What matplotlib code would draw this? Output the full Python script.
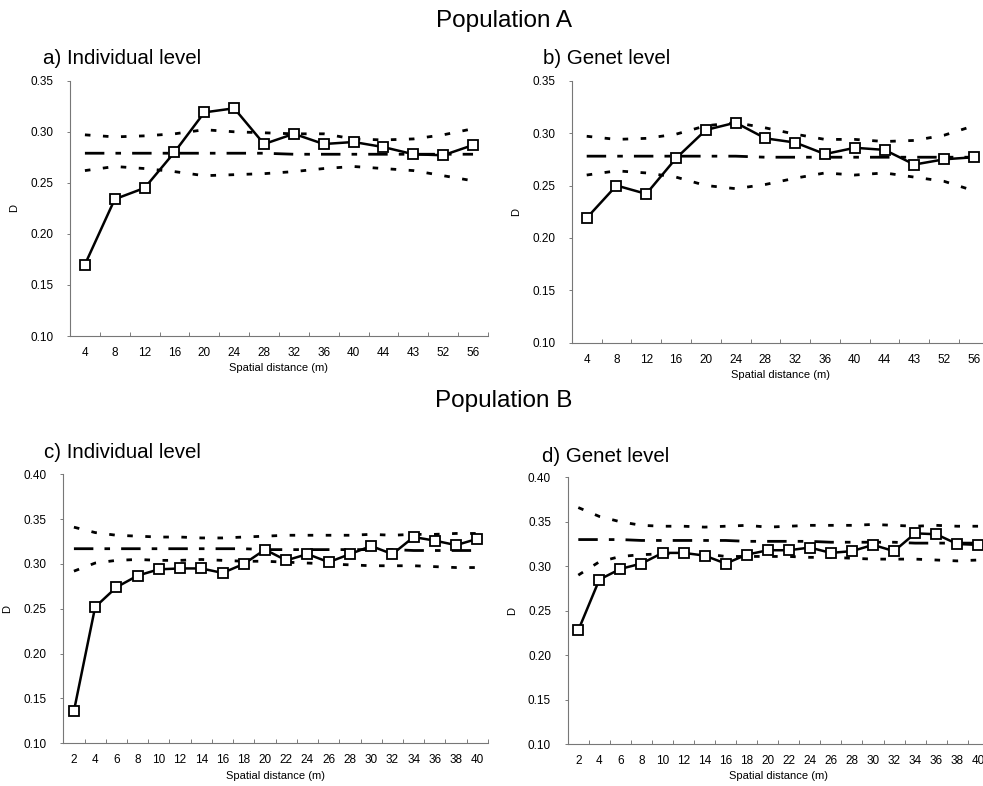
import matplotlib
matplotlib.use("Agg")
import matplotlib.pyplot as plt
from matplotlib.ticker import FixedLocator, FormatStrFormatter

# ---------------- data ----------------
dist_A = [4, 8, 12, 16, 20, 24, 28, 32, 36, 40, 44, 48, 52, 56]
tick_A = ["4", "8", "12", "16", "20", "24", "28", "32", "36", "40", "44", "43", "52", "56"]
a_obs = [0.170, 0.234, 0.245, 0.280, 0.319, 0.323, 0.288, 0.298, 0.288, 0.290, 0.285, 0.278, 0.277, 0.287]
a_mean = [0.279, 0.279, 0.279, 0.279, 0.279, 0.279, 0.279, 0.278, 0.278, 0.278, 0.278, 0.278, 0.278, 0.278]
a_up = [0.297, 0.295, 0.296, 0.298, 0.302, 0.300, 0.299, 0.298, 0.298, 0.293, 0.292, 0.293, 0.297, 0.303]
a_lo = [0.262, 0.266, 0.264, 0.261, 0.257, 0.258, 0.259, 0.261, 0.264, 0.266, 0.264, 0.262, 0.257, 0.252]

b_obs = [0.219, 0.250, 0.242, 0.276, 0.303, 0.310, 0.295, 0.291, 0.280, 0.286, 0.284, 0.270, 0.275, 0.277]
b_mean = [0.278, 0.278, 0.278, 0.278, 0.278, 0.278, 0.277, 0.277, 0.277, 0.277, 0.277, 0.277, 0.277, 0.277]
b_up = [0.297, 0.294, 0.295, 0.299, 0.307, 0.310, 0.305, 0.299, 0.294, 0.294, 0.292, 0.293, 0.298, 0.307]
b_lo = [0.260, 0.264, 0.262, 0.258, 0.250, 0.247, 0.251, 0.257, 0.262, 0.260, 0.262, 0.258, 0.254, 0.245]

dist_B = [2, 4, 6, 8, 10, 12, 14, 16, 18, 20, 22, 24, 26, 28, 30, 32, 34, 36, 38, 40]
tick_B = [str(v) for v in dist_B]
c_obs = [0.136, 0.252, 0.274, 0.287, 0.294, 0.295, 0.295, 0.290, 0.300, 0.316,
         0.304, 0.311, 0.302, 0.311, 0.320, 0.311, 0.330, 0.326, 0.321, 0.328]
c_mean = [0.317, 0.317, 0.317, 0.317, 0.317, 0.317, 0.317, 0.317, 0.317, 0.316,
          0.316, 0.316, 0.316, 0.316, 0.316, 0.316, 0.315, 0.315, 0.315, 0.315]
c_up = [0.341, 0.335, 0.332, 0.331, 0.330, 0.330, 0.329, 0.329, 0.330, 0.331,
        0.332, 0.332, 0.332, 0.332, 0.333, 0.332, 0.333, 0.333, 0.334, 0.334]
c_lo = [0.292, 0.301, 0.304, 0.305, 0.304, 0.304, 0.305, 0.304, 0.303, 0.303,
        0.302, 0.301, 0.300, 0.299, 0.298, 0.298, 0.298, 0.297, 0.296, 0.296]

d_obs = [0.228, 0.285, 0.297, 0.303, 0.315, 0.315, 0.312, 0.303, 0.313, 0.318,
         0.318, 0.321, 0.315, 0.317, 0.324, 0.317, 0.337, 0.336, 0.325, 0.324]
d_mean = [0.330, 0.330, 0.330, 0.329, 0.329, 0.329, 0.329, 0.329, 0.328, 0.328,
          0.328, 0.328, 0.327, 0.327, 0.327, 0.327, 0.326, 0.326, 0.326, 0.326]
d_up = [0.366, 0.356, 0.350, 0.346, 0.345, 0.345, 0.344, 0.345, 0.346, 0.344,
        0.345, 0.346, 0.346, 0.346, 0.347, 0.346, 0.345, 0.346, 0.345, 0.345]
d_lo = [0.290, 0.305, 0.311, 0.313, 0.314, 0.314, 0.314, 0.311, 0.311, 0.311,
        0.311, 0.310, 0.310, 0.309, 0.308, 0.308, 0.308, 0.307, 0.306, 0.307]

plt.rcParams['font.family'] = ['Liberation Sans', 'DejaVu Sans']

W, H = 983, 786
fig = plt.figure(figsize=(W / 100, H / 100), dpi=100)

def px(x, y):
    return x / W, 1 - y / H

panels = [
    ([0.0712, 0.5725, 0.4252, 0.3248], tick_A, a_obs, a_mean, a_up, a_lo, (0.10, 0.35), "a) Individual level", (43, 58)),
    ([0.5817, 0.5640, 0.4242, 0.3333], tick_A, b_obs, b_mean, b_up, b_lo, (0.10, 0.35), "b) Genet level", (543, 58)),
    ([0.0644, 0.0543, 0.4320, 0.3423], tick_B, c_obs, c_mean, c_up, c_lo, (0.10, 0.40), "c) Individual level", (44, 453)),
    ([0.5776, 0.0534, 0.4283, 0.3393], tick_B, d_obs, d_mean, d_up, d_lo, (0.10, 0.40), "d) Genet level", (542, 457)),
]

for rect, ticks, obs, mean, up, lo, ylim, title, tpos in panels:
    ax = fig.add_axes(rect)
    x = list(range(len(ticks)))
    ax.plot(x, up, color='black', lw=2.0, linestyle=(0, (2.0, 4.5)))
    ax.plot(x, lo, color='black', lw=2.0, linestyle=(0, (2.0, 4.5)))
    ax.plot(x, mean, color='black', lw=2.0, linestyle=(0, (7, 4, 2, 4)))
    ax.plot(x, obs, color='black', lw=1.8, marker='s', markersize=7,
            markerfacecolor='white', markeredgecolor='black', markeredgewidth=1.3, zorder=5)
    ax.set_xlim(-0.5, len(ticks) - 0.5)
    ax.set_ylim(*ylim)
    ax.set_xticks(x)
    ax.set_xticklabels(ticks, fontsize=8.5)
    ax.xaxis.set_minor_locator(FixedLocator([i + 0.5 for i in range(-1, len(ticks))]))
    ax.tick_params(axis='x', which='major', length=0, pad=8)
    ax.tick_params(axis='x', which='minor', length=3, width=0.6, color='#666666', direction='in')
    step = 0.05
    yt = [round(ylim[0] + i * step, 2) for i in range(int(round((ylim[1] - ylim[0]) / step)) + 1)]
    ax.set_yticks(yt)
    ax.yaxis.set_major_formatter(FormatStrFormatter('%.2f'))
    ax.tick_params(axis='y', length=2, width=0.6, color='#666666', labelsize=8.5, pad=10)
    for s in ['top', 'right']:
        ax.spines[s].set_visible(False)
    for s in ['left', 'bottom']:
        ax.spines[s].set_color('#777777')
        ax.spines[s].set_linewidth(0.8)
    ax.set_xlabel("Spatial distance (m)", fontsize=8, labelpad=3)
    ax.set_ylabel("D", fontsize=8, labelpad=8)
    fig.text(*px(*tpos), title, fontsize=14.8, ha='left', va='center')

fig.text(*px(504, 21), "Population A", fontsize=17.5, ha='center', va='center')
fig.text(*px(504, 401), "Population B", fontsize=17.5, ha='center', va='center')

fig.savefig("out.png", dpi=100)
